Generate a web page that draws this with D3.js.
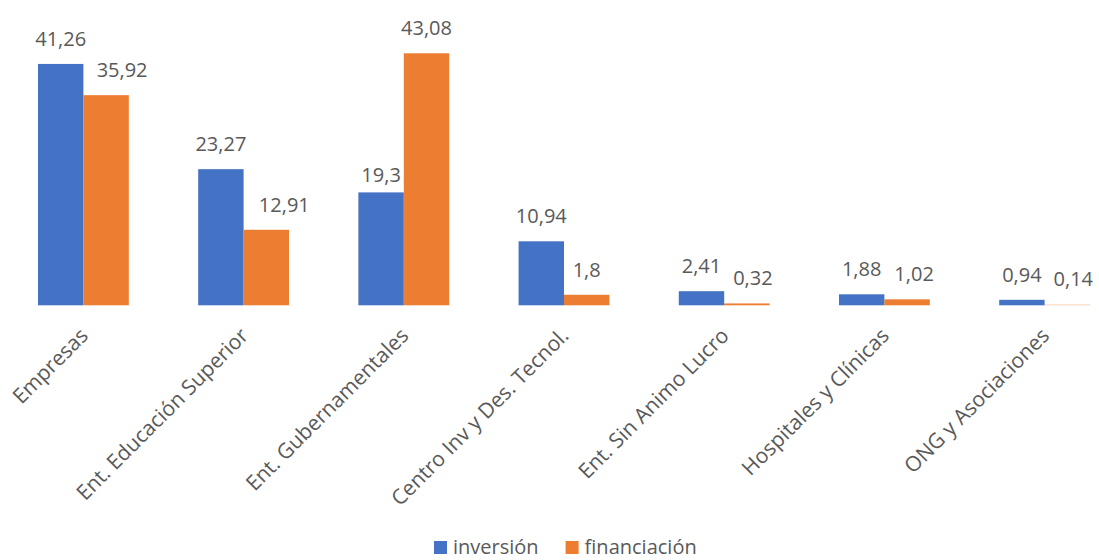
<!DOCTYPE html>
<html>
<head>
<meta charset="utf-8">
<script src="https://cdn.jsdelivr.net/npm/d3@7"></script>
<style>
  html, body { margin: 0; padding: 0; background: #ffffff; }
  svg { display: block; }
  text { font-family: "Open Sans", "Noto Sans", sans-serif; fill: #595959; }
</style>
</head>
<body>
<svg id="chart" width="1099" height="560"></svg>
<script>
// Categories and the two series (values in %)
const categories = [
  "Empresas",
  "Ent. Educación Superior",
  "Ent. Gubernamentales",
  "Centro Inv y Des. Tecnol.",
  "Ent. Sin Animo Lucro",
  "Hospitales y Clínicas",
  "ONG y Asociaciones"
];
const inversion    = [41.26, 23.27, 19.3, 10.94, 2.41, 1.88, 0.94];
const financiacion = [35.92, 12.91, 43.08, 1.8, 0.32, 1.02, 0.14];
const seriesNames  = ["inversión", "financiación"];

// Hand-placed data label offsets [dx, dy] per series, to keep labels clear of each other
const inversionLabelShift    = [[0, 0], [0, 0], [0, 8], [0, 0], [0, 0], [0, 0], [0, 0]];
const financiacionLabelShift = [[16, 0], [18, 0], [0, 0], [0, 0], [6, 0], [7, 0], [6, 0]];

const colors = ["#4472C4", "#ED7D31"];
const fmt = v => String(v).replace(".", ",");

const svg = d3.select("#chart");
const baseY = 305.3;

const x = d3.scaleBand()
  .domain(categories)
  .range([3.3, 1124.7])
  .paddingInner(0.433)
  .paddingOuter(0.2165);

const xs = d3.scaleBand()
  .domain(seriesNames)
  .range([0, x.bandwidth()]);

const y = d3.scaleLinear()
  .domain([0, 45])
  .range([baseY, baseY - 45 * 5.85]);

const rows = categories.map((c, i) => ({
  cat: c,
  vals: [
    { s: seriesNames[0], v: inversion[i], shift: inversionLabelShift[i], k: 0, last: false },
    { s: seriesNames[1], v: financiacion[i], shift: financiacionLabelShift[i], k: 1, last: i === categories.length - 1 }
  ]
}));

const groups = svg.append("g").selectAll("g")
  .data(rows)
  .join("g")
  .attr("transform", d => `translate(${x(d.cat)},0)`);

groups.selectAll("rect")
  .data(d => d.vals)
  .join("rect")
  .attr("x", d => xs(d.s))
  .attr("y", d => y(d.v))
  .attr("width", xs.bandwidth())
  .attr("height", d => y(0) - y(d.v))
  .attr("fill", d => colors[d.k])
  .attr("fill-opacity", d => d.last ? 0.4 : 1);

groups.selectAll("text.val")
  .data(d => d.vals)
  .join("text")
  .attr("class", "val")
  .attr("x", d => xs(d.s) + xs.bandwidth() / 2 + d.shift[0])
  .attr("y", d => y(d.v) - 18 + d.shift[1])
  .attr("text-anchor", "middle")
  .style("font-size", "20px")
  .text(d => fmt(d.v));

// Rotated category labels
svg.append("g").selectAll("text")
  .data(categories)
  .join("text")
  .attr("transform", c => `translate(${x(c) + x.bandwidth() / 2 + 6},337) rotate(-45)`)
  .attr("text-anchor", "end")
  .style("font-size", "21px")
  .text(c => c);

// Legend
const legend = svg.append("g");
let lx = 434;
seriesNames.forEach((name, i) => {
  legend.append("rect")
    .attr("x", lx).attr("y", 541)
    .attr("width", 13).attr("height", 13)
    .attr("fill", colors[i]);
  const t = legend.append("text")
    .attr("x", lx + 19).attr("y", 554)
    .style("font-size", "20px")
    .text(name);
  lx += 19 + t.node().getComputedTextLength() + 27;
});
</script>
</body>
</html>
